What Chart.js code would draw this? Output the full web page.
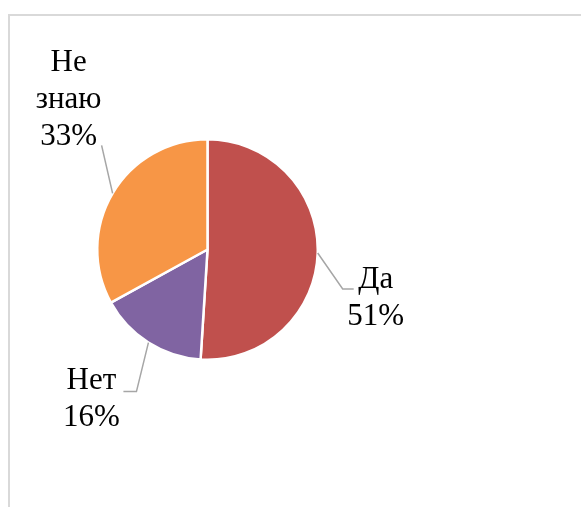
<!DOCTYPE html>
<html>
<head>
<meta charset="utf-8">
<script src="https://cdn.jsdelivr.net/npm/chart.js@4"></script>
<style>
  html, body { margin: 0; padding: 0; background: #fff; overflow: hidden; }
  #wrap { position: relative; width: 581px; height: 507px; }
  #frame { position: absolute; left: 8px; top: 14px; width: 600px; height: 520px;
           border-top: 2px solid #d9d9d9; border-left: 2px solid #d9d9d9; }
  canvas { position: absolute; left: 0; top: 0; }
</style>
</head>
<body>
<div id="wrap">
  <div id="frame"></div>
  <canvas id="pieChart" width="581" height="507"></canvas>
</div>
<script>
// ====== DATA ======
const categories = ['Да', 'Нет', 'Не знаю'];
const values = [51, 16, 33];
const sliceColors = ['#C0504D', '#8064A2', '#F79646'];

// label placement relative to the point where the leader leaves the pie
// elbow = bend of the leader, tail = horizontal stub, text = first line centre/baseline
const labelLayout = [
  { elbow: [25, 36], tail: 11, text: [58, 35] },
  { elbow: [-12, 49], tail: -13, text: [-57, 46] },
  { elbow: [-11, -48], tail: 0, text: [-44, -122] }
];

// ====== LABELS + LEADER LINES ======
const pieLabels = {
  id: 'pieLabels',
  afterDraw(chart) {
    const ctx = chart.ctx;
    const meta = chart.getDatasetMeta(0);
    const total = values.reduce((a, b) => a + b, 0);
    ctx.save();
    meta.data.forEach((arc, i) => {
      const mid = (arc.startAngle + arc.endAngle) / 2;
      const ax = arc.x + Math.cos(mid) * arc.outerRadius;
      const ay = arc.y + Math.sin(mid) * arc.outerRadius;
      const lay = labelLayout[i];
      const ex = ax + lay.elbow[0];
      const ey = ay + lay.elbow[1];

      ctx.strokeStyle = '#a6a6a6';
      ctx.lineWidth = 1.5;
      ctx.beginPath();
      ctx.moveTo(ax, ay);
      ctx.lineTo(ex, ey);
      if (lay.tail) ctx.lineTo(ex + lay.tail, ey);
      ctx.stroke();

      const pct = Math.round(values[i] / total * 100) + '%';
      const lines = categories[i].split(' ').concat([pct]);
      ctx.fillStyle = '#000';
      ctx.font = '31px "Liberation Serif", "Times New Roman", serif';
      ctx.textAlign = 'center';
      ctx.textBaseline = 'alphabetic';
      lines.forEach((t, k) => {
        ctx.fillText(t, ax + lay.text[0], ay + lay.text[1] + k * 37);
      });
    });
    ctx.restore();
  }
};

// ====== CHART ======
new Chart(document.getElementById('pieChart').getContext('2d'), {
  type: 'pie',
  data: {
    labels: categories,
    datasets: [{
      data: values,
      backgroundColor: sliceColors,
      borderColor: '#ffffff',
      borderWidth: 2.5
    }]
  },
  options: {
    responsive: false,
    animation: false,
    layout: { padding: { left: 96, top: 138, right: 262, bottom: 146 } },
    plugins: {
      legend: { display: false },
      tooltip: { enabled: false }
    }
  },
  plugins: [pieLabels]
});
</script>
</body>
</html>
